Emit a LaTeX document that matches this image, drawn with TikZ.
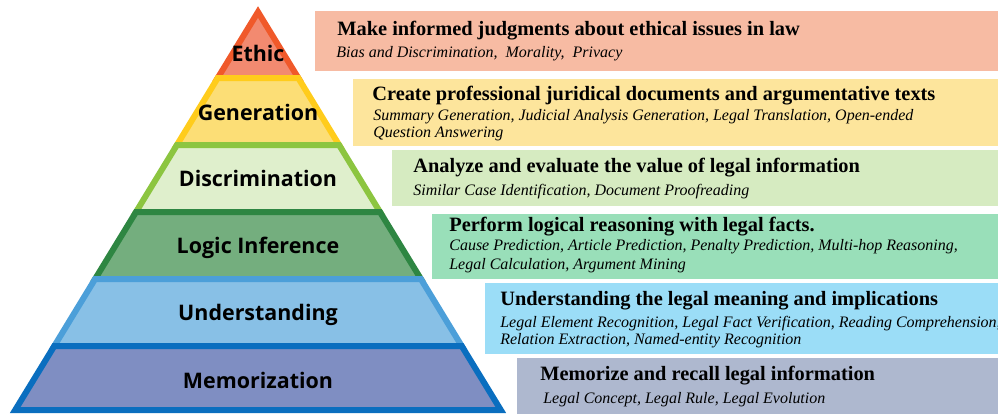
\documentclass[tikz,border=0pt]{standalone}
\usepackage{xcolor}
\usepackage{fontspec}
\setmainfont{Liberation Serif}
\newfontfamily\labelfont{Open Sans}
\usepackage{tikz}
\usetikzlibrary{positioning}

\definecolor{ethicline}{HTML}{F0592A}
\definecolor{ethicfill}{HTML}{F28A70}
\definecolor{genline}{HTML}{FFCC1C}
\definecolor{genfill}{HTML}{FCDE76}
\definecolor{discline}{HTML}{8CC540}
\definecolor{discfill}{HTML}{DFEFCC}
\definecolor{logicline}{HTML}{2E8642}
\definecolor{logicfill}{HTML}{74AE7E}
\definecolor{undline}{HTML}{4C9FD9}
\definecolor{undfill}{HTML}{88C0E6}
\definecolor{memline}{HTML}{0A6EBF}
\definecolor{memfill}{HTML}{7F8EC2}
\definecolor{ethicbg}{HTML}{F7BBA3}
\definecolor{genbg}{HTML}{FDE59C}
\definecolor{discbg}{HTML}{D6EBC1}
\definecolor{logicbg}{HTML}{99DFB9}
\definecolor{undbg}{HTML}{9BDDF7}
\definecolor{membg}{HTML}{AEB8CF}

\tikzset{
  layer/.style={line width=0.12cm, line join=miter},
  level/.style={anchor=base, inner sep=0pt, font=\labelfont\bfseries\fontsize{12.2pt}{14pt}\selectfont},
  tbox/.style={anchor=north west, inner sep=0pt, draw=none},
  head/.style={anchor=base west, inner sep=0pt, font=\bfseries\fontsize{11.6pt}{13pt}\selectfont},
  sub/.style={anchor=base west, inner sep=0pt, font=\itshape\fontsize{9.1pt}{10pt}\selectfont}
}

\begin{document}
\begin{tikzpicture}[x=0.02cm, y=-0.02cm]
    \useasboundingbox (0,0) rectangle (998,413);

    \filldraw[layer, draw=ethicline, fill=ethicfill] (258,12) -- (298.3,78) -- (217.7,78) -- cycle;
    \filldraw[layer, draw=genline, fill=genfill] (217.7,78) -- (298.3,78) -- (339.1,145) -- (176.9,145) -- cycle;
    \filldraw[layer, draw=discline, fill=discfill] (176.9,145) -- (339.1,145) -- (380,212) -- (136,212) -- cycle;
    \filldraw[layer, draw=logicline, fill=logicfill] (136,212) -- (380,212) -- (420.9,279) -- (95.1,279) -- cycle;
    \filldraw[layer, draw=undline, fill=undfill] (95.1,279) -- (420.9,279) -- (461.7,346) -- (54.3,346) -- cycle;
    \filldraw[layer, draw=memline, fill=memfill] (54.3,346) -- (461.7,346) -- (500.8,410) -- (15.2,410) -- cycle;

    \node[level] (ethic) at (258,61) {Ethic};
    \node[level] (gen) at (258,120) {Generation};
    \node[level] (disc) at (258,186) {Discrimination};
    \node[level] (logic) at (258,253) {Logic Inference};
    \node[level] (und) at (258,320) {Understanding};
    \node[level] (mem) at (258,388) {Memorization};

    \node[tbox, fill=ethicbg, minimum width=13.66cm, minimum height=1.2cm] (ethicbox) at (315,11) {};
    \node[tbox, fill=genbg, minimum width=12.9cm, minimum height=1.34cm] (genbox) at (353,79) {};
    \node[tbox, fill=discbg, minimum width=12.12cm, minimum height=1.12cm] (discbox) at (392,150) {};
    \node[tbox, fill=logicbg, minimum width=11.32cm, minimum height=1.3cm] (logicbox) at (432,214) {};
    \node[tbox, fill=undbg, minimum width=10.26cm, minimum height=1.42cm] (undbox) at (485,283) {};
    \node[tbox, fill=membg, minimum width=9.62cm, minimum height=1.2cm] (membox) at (517,358) {};

    \node[head] (ethichead) at (337,35) {Make informed judgments about ethical issues in law};
    \node[sub] (ethicsub) at (336,57) {Bias and Discrimination,\ \ Morality,\ \ Privacy};

    \node[head] (genhead) at (372,100) {Create professional juridical documents and argumentative texts};
    \node[sub] (gensub) at (373,120) {Summary Generation, Judicial Analysis Generation, Legal Translation, Open-ended};
    \node[sub] (gensubb) at (373,137) {Question Answering};

    \node[head] (dischead) at (413,172) {Analyze and evaluate the value of legal information};
    \node[sub] (discsub) at (413,195) {Similar Case Identification, Document Proofreading};

    \node[head] (logichead) at (449,231) {Perform logical reasoning with legal facts.};
    \node[sub] (logicsub) at (449,250) {Cause Prediction, Article Prediction, Penalty Prediction, Multi-hop Reasoning,};
    \node[sub] (logicsubb) at (449,269) {Legal Calculation, Argument Mining};

    \node[head] (undhead) at (500,305) {Understanding the legal meaning and implications};
    \node[sub] (undsub) at (500,327) {Legal Element Recognition, Legal Fact Verification, Reading Comprehension,};
    \node[sub] (undsubb) at (500,344) {Relation Extraction, Named-entity Recognition};

    \node[head] (memhead) at (540,380) {Memorize and recall legal information};
    \node[sub] (memsub) at (543,403) {Legal Concept, Legal Rule, Legal Evolution};
\end{tikzpicture}
\end{document}
